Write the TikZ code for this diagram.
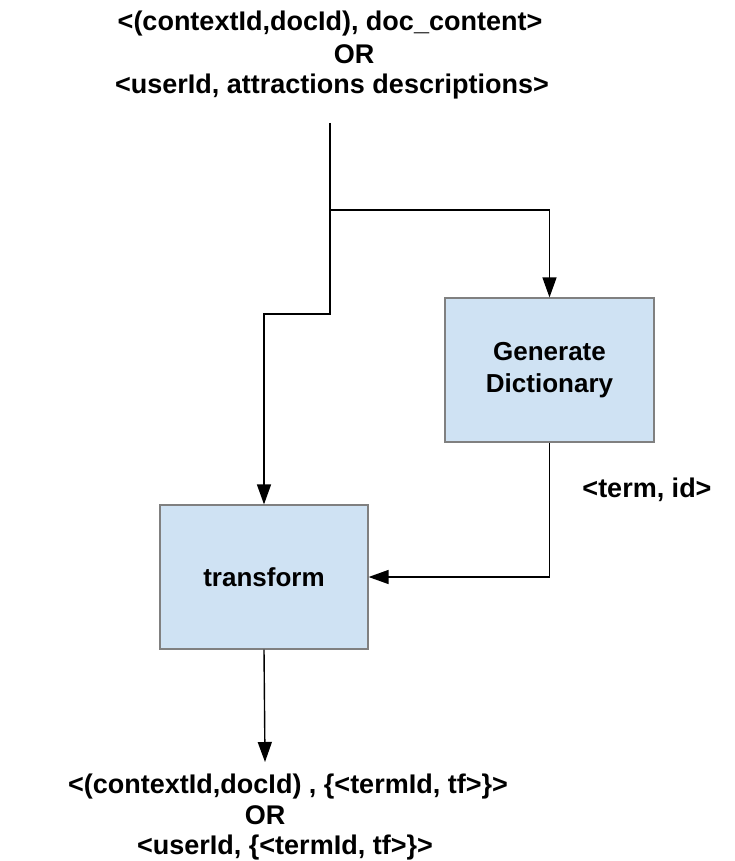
\documentclass[tikz,border=0pt]{standalone}
\usepackage{fontspec}
\setmainfont{Liberation Sans}
\usetikzlibrary{arrows.meta}
\definecolor{boxfill}{RGB}{207,226,243}
\definecolor{boxline}{RGB}{128,128,128}
\begin{document}
\begin{tikzpicture}[x=1pt,y=-1pt,
  lbl/.style={font=\fontsize{27}{32}\selectfont\bfseries, inner sep=0pt, anchor=base},
  procbox/.style={draw=boxline, line width=1.2pt, fill=boxfill, minimum width=209pt, minimum height=144pt, font=\fontsize{26}{32}\selectfont\bfseries, align=center},
  arr/.style={line width=1.4pt, -{Triangle[width=14pt,length=20pt]}},
  plain/.style={line width=1.4pt}]
\useasboundingbox (0,0) rectangle (734,861);
\fill[white] (0,0) rectangle (734,861);
% top input text
\node[lbl] (t1) at (330,31) {<(contextId,docId), doc\_content>};
\node[lbl] (t2) at (354,64) {OR};
\node[lbl] (t3) at (332,94) {<userId, attractions descriptions>};
% boxes
\node[procbox] (gen) at (549.5,370) {Generate\\Dictionary};
\node[procbox, minimum width=208pt] (tr) at (264,577) {transform};
% label
\node[lbl] (lab) at (647,497) {<term, id>};
% bottom output text
\node[lbl] (b1) at (288,793) {<(contextId,docId) , \{<termId, tf>\}>};
\node[lbl] (b2) at (265,824) {OR};
\node[lbl] (b3) at (285,854) {<userId, \{<termId, tf>\}>};
% coordinates
\coordinate (in) at (330,123);
\coordinate (split) at (330,210);
\coordinate (bend) at (330,314);
\coordinate (out) at (265,762);
% connectors
\draw[plain] (in) -- (split);
\draw[arr] (split) -- (bend) -| (tr.north);
\draw[arr] (split) -| (gen.north);
\draw[arr] (gen.south) |- (tr.east);
\draw[arr] (tr.south) -- (out);
\end{tikzpicture}
\end{document}
